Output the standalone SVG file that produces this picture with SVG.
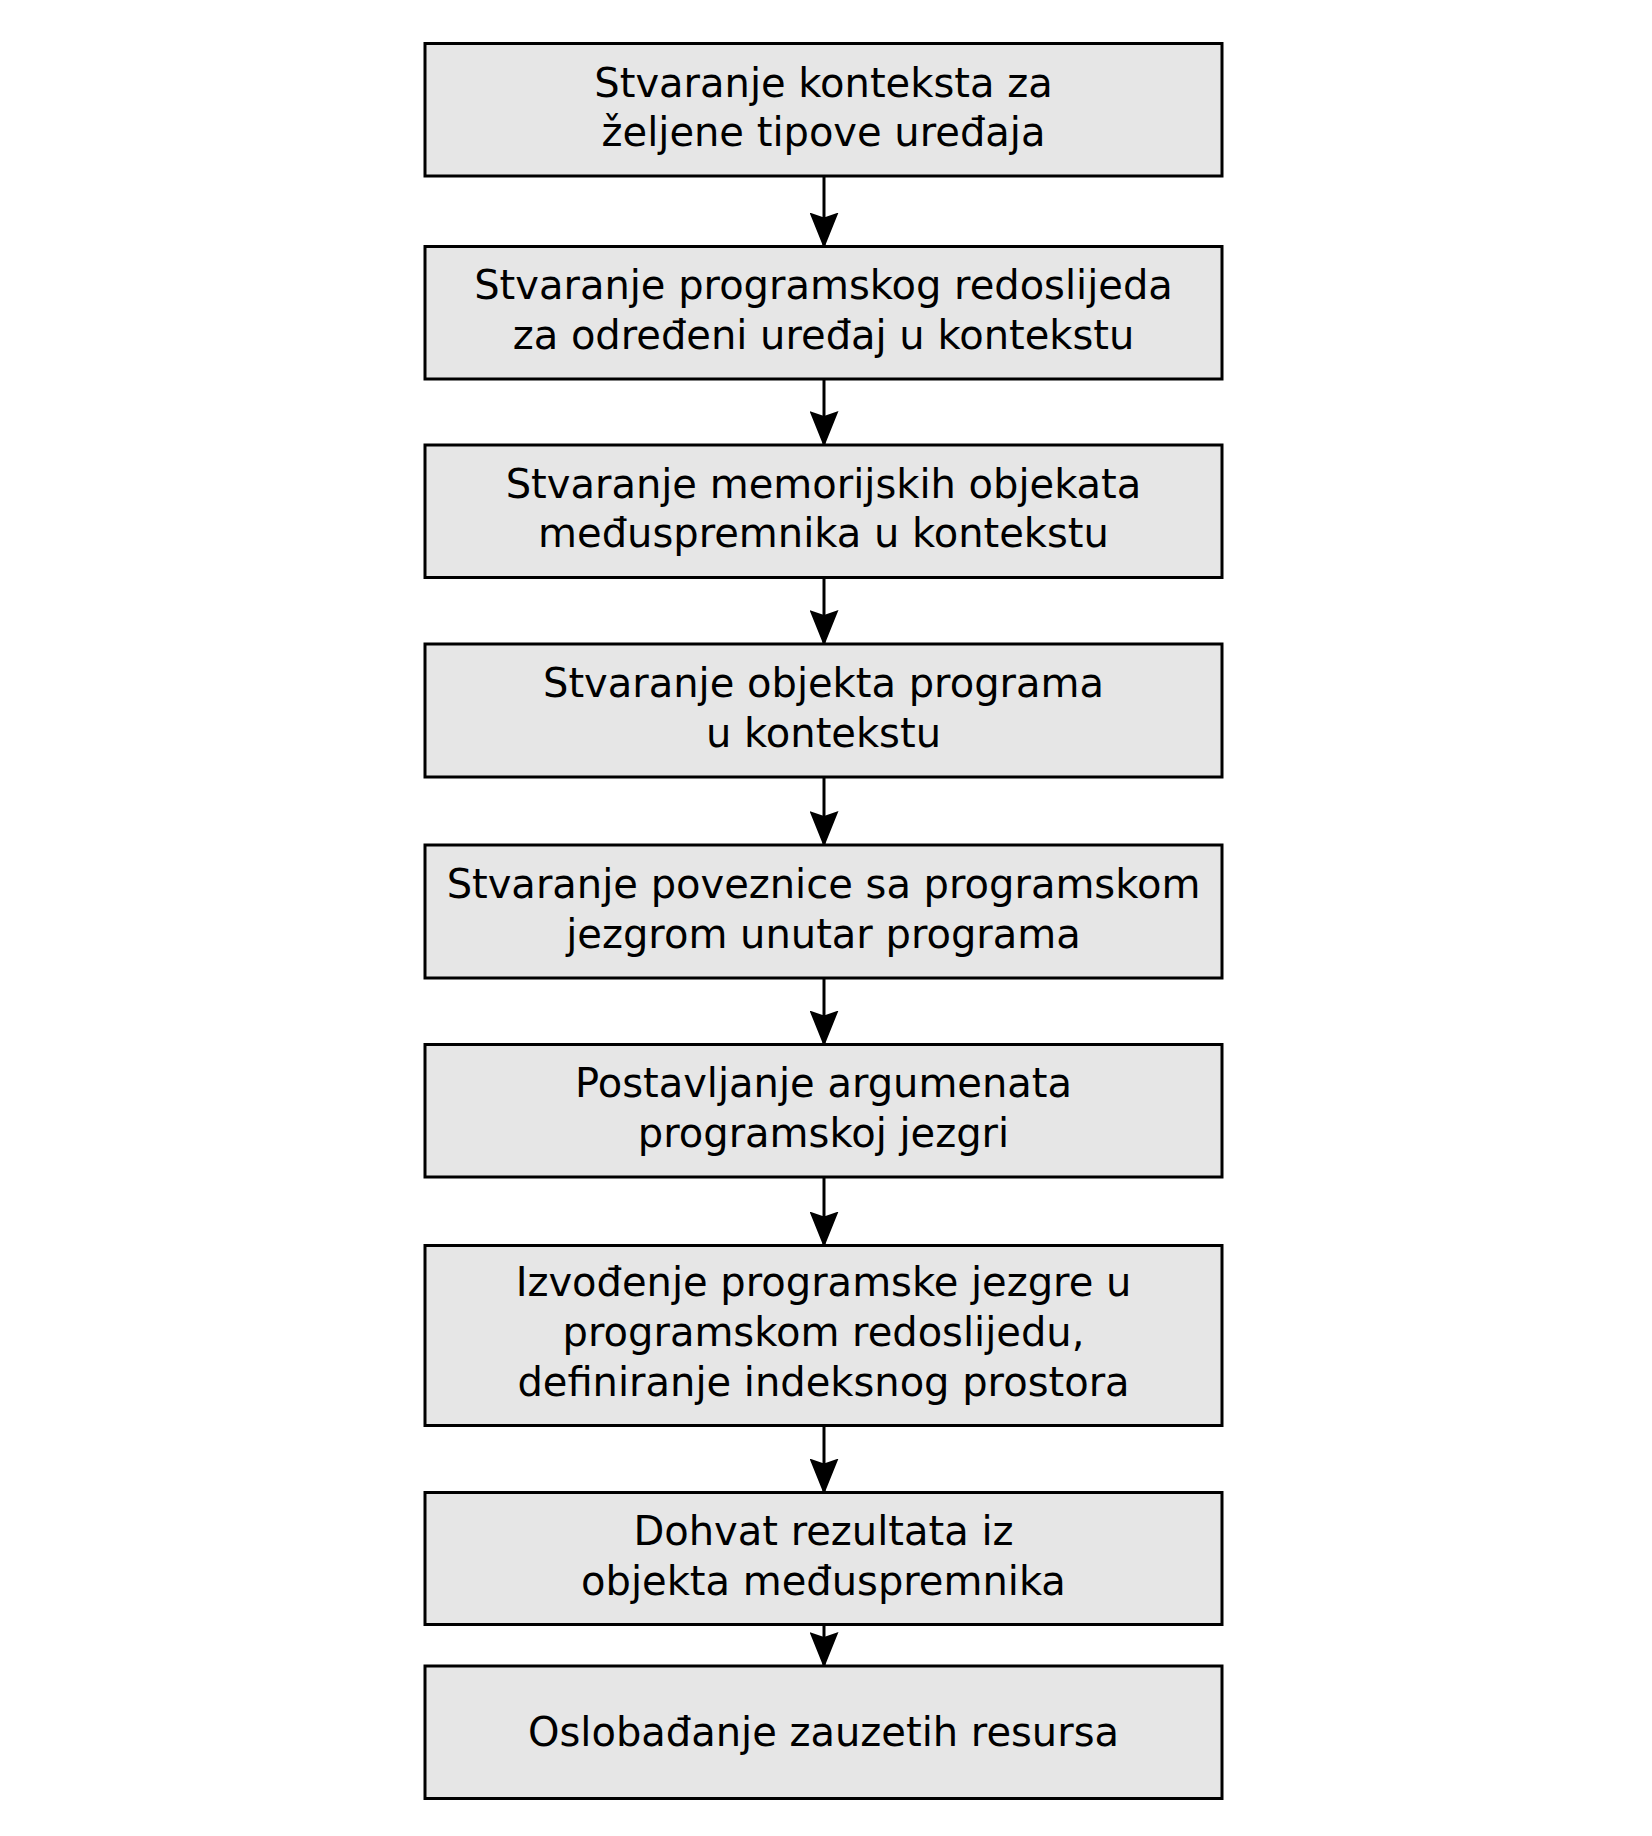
<svg xmlns="http://www.w3.org/2000/svg" width="1652" height="1836" viewBox="0 0 1652 1836">
<style>
.box{fill:#e6e6e6;stroke:#000;stroke-width:3}
.lbl{font-family:"DejaVu Sans","Liberation Sans",sans-serif;font-size:40px;fill:#000;text-anchor:middle}
.edge{stroke:#000;stroke-width:3;fill:none;marker-end:url(#ah)}
</style>
<defs>
<marker id="ah" viewBox="0 0 36 29" refX="35" refY="14.5" markerWidth="36" markerHeight="29" markerUnits="userSpaceOnUse" orient="auto">
<path d="M0,0 L36,14.5 L0,29 L5,14.5 z" fill="#000"/>
</marker>
</defs>
<rect width="1652" height="1836" fill="#fff"/>
<g id="connectors">
<line class="edge" x1="824" y1="176" x2="824" y2="247.5"/>
<line class="edge" x1="824" y1="379" x2="824" y2="446"/>
<line class="edge" x1="824" y1="577.5" x2="824" y2="645"/>
<line class="edge" x1="824" y1="777" x2="824" y2="846"/>
<line class="edge" x1="824" y1="978" x2="824" y2="1045.5"/>
<line class="edge" x1="824" y1="1177" x2="824" y2="1246.5"/>
<line class="edge" x1="824" y1="1425.5" x2="824" y2="1493.5"/>
<line class="edge" x1="824" y1="1624.5" x2="824" y2="1667"/>
</g>
<g id="n1"><rect class="box" x="425" y="43.5" width="797" height="132.5"/>
<text class="lbl" x="823.5" y="96.5">Stvaranje konteksta za</text>
<text class="lbl" x="823.5" y="146">željene tipove uređaja</text></g>
<g id="n2"><rect class="box" x="425" y="246.5" width="797" height="132.5"/>
<text class="lbl" x="823.5" y="299">Stvaranje programskog redoslijeda</text>
<text class="lbl" x="823.5" y="348.5">za određeni uređaj u kontekstu</text></g>
<g id="n3"><rect class="box" x="425" y="445" width="797" height="132.5"/>
<text class="lbl" x="823.5" y="497.5">Stvaranje memorijskih objekata</text>
<text class="lbl" x="823.5" y="547">međuspremnika u kontekstu</text></g>
<g id="n4"><rect class="box" x="425" y="644" width="797" height="133"/>
<text class="lbl" x="823.5" y="697">Stvaranje objekta programa</text>
<text class="lbl" x="823.5" y="746.5">u kontekstu</text></g>
<g id="n5"><rect class="box" x="425" y="845" width="797" height="133"/>
<text class="lbl" x="823.5" y="898">Stvaranje poveznice sa programskom</text>
<text class="lbl" x="823.5" y="947.5">jezgrom unutar programa</text></g>
<g id="n6"><rect class="box" x="425" y="1044.5" width="797" height="132.5"/>
<text class="lbl" x="823.5" y="1097">Postavljanje argumenata</text>
<text class="lbl" x="823.5" y="1146.5">programskoj jezgri</text></g>
<g id="n7"><rect class="box" x="425" y="1245.5" width="797" height="180"/>
<text class="lbl" x="823.5" y="1296">Izvođenje programske jezgre u</text>
<text class="lbl" x="823.5" y="1346">programskom redoslijedu,</text>
<text class="lbl" x="823.5" y="1395.5">definiranje indeksnog prostora</text></g>
<g id="n8"><rect class="box" x="425" y="1492.5" width="797" height="132"/>
<text class="lbl" x="823.5" y="1545">Dohvat rezultata iz</text>
<text class="lbl" x="823.5" y="1594.5">objekta međuspremnika</text></g>
<g id="n9"><rect class="box" x="425" y="1666" width="797" height="132.5"/>
<text class="lbl" x="823.5" y="1745.5">Oslobađanje zauzetih resursa</text></g>
</svg>
